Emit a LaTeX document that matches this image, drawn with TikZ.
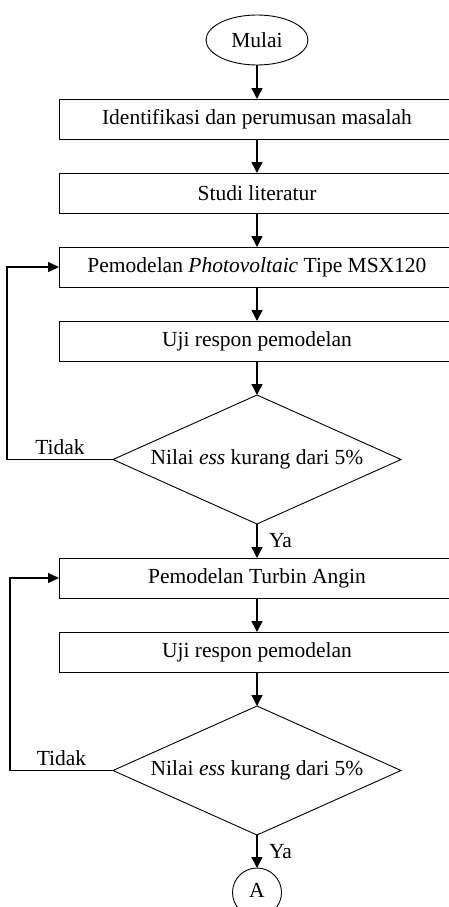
\documentclass[tikz,border=0pt]{standalone}
\usepackage{fontspec}
\setmainfont{Liberation Serif}
\usetikzlibrary{positioning,shapes.geometric,arrows.meta}

\begin{document}
\begin{tikzpicture}[node distance=34pt, x=1pt, y=-1pt, font=\fontsize{21.5pt}{25pt}\selectfont]

    % Styles
    \tikzstyle{terminal} = [ellipse, draw=black, line width=0.9pt, minimum width=102pt, minimum height=50pt, inner sep=0pt, outer sep=0pt]
    \tikzstyle{process} = [rectangle, draw=black, line width=0.9pt, minimum width=396pt, minimum height=40pt, inner sep=0pt, outer sep=0pt, text centered]
    \tikzstyle{decision} = [diamond, draw=black, line width=0.9pt, minimum width=288pt, minimum height=129pt, aspect=2.2, inner sep=0pt, outer sep=0pt]
    \tikzstyle{connector} = [circle, draw=black, line width=0.9pt, minimum size=49pt, inner sep=0pt, outer sep=0pt]
    \tikzstyle{arrow} = [line width=1.5pt, -{Triangle[length=11pt, width=11pt]}]
    \tikzstyle{loopback} = [line width=1.2pt, -{Triangle[length=11pt, width=10pt]}]

    % Cadre
    \clip (0,0) rectangle (449,907);

    % Nodes
    \node (mulai) [terminal] at (257,40) {Mulai};
    \node (identifikasi) [process, below=of mulai] {Identifikasi dan perumusan masalah};
    \node (literatur) [process, below=of identifikasi] {Studi literatur};
    \node (pv) [process, below=of literatur] {Pemodelan \textit{Photovoltaic} Tipe MSX120};
    \node (ujipv) [process, below=of pv] {Uji respon pemodelan};
    \node (cekpv) [decision, below=of ujipv] {Nilai \textit{ess} kurang dari 5\%};
    \node (turbin) [process, below=of cekpv] {Pemodelan Turbin Angin};
    \node (ujiturbin) [process, below=of turbin] {Uji respon pemodelan};
    \node (cekturbin) [decision, below=of ujiturbin] {Nilai \textit{ess} kurang dari 5\%};
    \node (a) [connector, below=33pt of cekturbin] {\raisebox{4pt}{A}};

    % Arrows
    \draw [arrow] (mulai) -- (identifikasi);
    \draw [arrow] (identifikasi) -- (literatur);
    \draw [arrow] (literatur) -- (pv);
    \draw [arrow] (pv) -- (ujipv);
    \draw [arrow] (ujipv) -- (cekpv);
    \draw [arrow] (cekpv) -- node[right=8pt] {Ya} (turbin);
    \draw [arrow] (turbin) -- (ujiturbin);
    \draw [arrow] (ujiturbin) -- (cekturbin);
    \draw [arrow] (cekturbin) -- node[right=8pt] {Ya} (a);

    % Loops
    \draw [loopback] (cekpv.west) -- node[above, inner sep=4pt] {Tidak} ++(-106,0) |- (pv.west);
    \draw [loopback] (cekturbin.west) -- node[above, inner sep=4pt] {Tidak} ++(-103,0) |- (turbin.west);

\end{tikzpicture}
\end{document}
